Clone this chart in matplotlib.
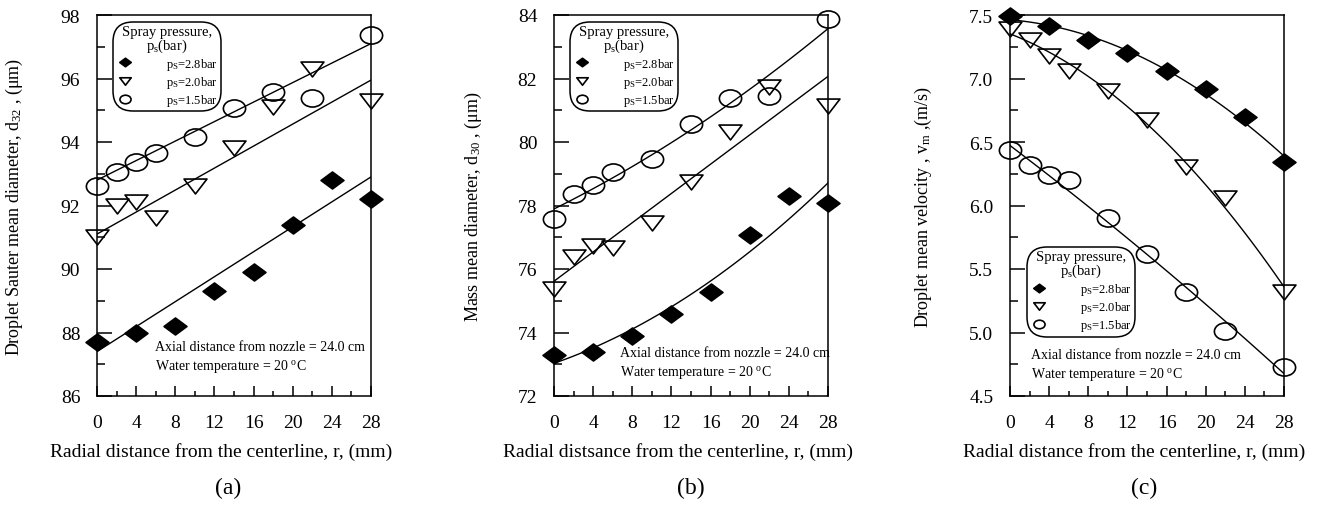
import numpy as np
import matplotlib
matplotlib.use("Agg")
import matplotlib.pyplot as plt
from matplotlib.path import Path
from matplotlib.ticker import MultipleLocator, FormatStrFormatter

plt.rcParams['font.family'] = ['Liberation Serif', 'DejaVu Serif']
plt.rcParams['mathtext.fontset'] = 'custom'
plt.rcParams['mathtext.rm'] = 'Liberation Serif'
plt.rcParams['mathtext.it'] = 'Liberation Serif:italic'

# radial positions (mm)
r_28 = [0, 4, 8, 12, 16, 20, 24, 28]
r_20 = [0, 2, 4, 6, 10, 14, 18, 22, 28]
r_15 = [0, 2, 4, 6, 10, 14, 18, 22, 28]

# (a) Sauter mean diameter d32 (um)
d32_28 = [87.7, 88.0, 88.2, 89.3, 89.9, 91.4, 92.8, 92.2]
d32_20 = [91.0, 92.0, 92.1, 91.6, 92.6, 93.8, 95.1, 96.3, 95.3]
d32_15 = [92.6, 93.06, 93.36, 93.65, 94.17, 95.07, 95.57, 95.38, 97.37]

# (b) mass mean diameter d30 (um)
d30_28 = [73.3, 73.4, 73.9, 74.58, 75.28, 77.07, 78.3, 78.08]
d30_20 = [75.37, 76.38, 76.72, 76.66, 77.45, 78.74, 80.32, 81.73, 81.13]
d30_15 = [77.57, 78.36, 78.65, 79.06, 79.46, 80.57, 81.39, 81.45, 83.87]

# (c) droplet mean velocity vm (m/s)
vm_28 = [7.49, 7.41, 7.30, 7.20, 7.06, 6.92, 6.70, 6.34]
vm_20 = [7.39, 7.30, 7.18, 7.06, 6.90, 6.67, 6.30, 6.06, 5.32]
vm_15 = [6.44, 6.32, 6.24, 6.20, 5.90, 5.62, 5.32, 5.01, 4.73]

# trend lines: straight lines in (a) read off as end values at r = 0 and 28,
# polynomial degree for the fitted curves in (b) and (c)
trend_r = [0, 28]
trend_a = [[87.4, 92.9], [91.1, 95.95], [92.8, 97.1]]
fit_b = [2, 1, 2]
fit_c = [2, 2, 2]

labels = ['p$_{\\rm S}$=2.8bar', 'p$_{\\rm S}$=2.0bar', 'p$_{\\rm S}$=1.5bar']

# markers in the original are a little wider than tall
circ = Path.unit_circle()
m_circle = Path(circ.vertices * [1.0, 0.77], circ.codes)
m_diamond = Path([(0, 0.74), (1, 0), (0, -0.74), (-1, 0), (0, 0.74)],
                 [Path.MOVETO, Path.LINETO, Path.LINETO, Path.LINETO, Path.CLOSEPOLY])
m_tri = Path([(0, -0.65), (-1, 0.65), (1, 0.65), (0, -0.65)],
             [Path.MOVETO, Path.LINETO, Path.LINETO, Path.CLOSEPOLY])

fig = plt.figure(figsize=(13.26, 5.06), dpi=100)
lefts = [97 / 1326, 554 / 1326, 1010 / 1326]
axes = [fig.add_axes([l, 109 / 506, 274 / 1326, 381 / 506]) for l in lefts]

panels = [
    (axes[0], [d32_28, d32_20, d32_15], trend_a, (86, 98), 2, 1, '%d',
     'Droplet Sauter mean diameter, d$_{32}$ , (\u03bcm)',
     'Radial distance from the centerline, r, (mm)', '(a)',
     (0.058, 0.982), (0.21, 0.131), -0.263, 0.478),
    (axes[1], [d30_28, d30_20, d30_15], fit_b, (72, 84), 2, 1, '%d',
     'Mass mean diameter, d$_{30}$ , (\u03bcm)',
     'Radial distsance from the centerline, r, (mm)', '(b)',
     (0.058, 0.982), (0.24, 0.115), -0.255, 0.5),
    (axes[2], [vm_28, vm_20, vm_15], fit_c, (4.5, 7.5), 0.5, 0.25, '%.1f',
     'Droplet mean velocity , v$_{\\rm m}$ ,(m/s)',
     'Radial distance from the centerline, r, (mm)', '(c)',
     (0.062, 0.391), (0.077, 0.11), -0.277, 0.49),
]

rs = [r_28, r_20, r_15]
mks = [(m_diamond, 'black', 16.5), (m_tri, 'none', 16.5), (m_circle, 'none', 16)]
xx = np.linspace(0, 28, 60)

for ax, series, trends, ylim, ymaj, ymin, fmt, ylab, xlab, tag, legpos, notepos, ylx, tagx in panels:
    for r, y, tr, (mk, fc, ms), lab in zip(rs, series, trends, mks, labels):
        if isinstance(tr, list):
            ax.plot(trend_r, tr, color='black', lw=1.0)
        else:
            coef = np.polyfit(r, y, tr)
            ax.plot(xx, np.polyval(coef, xx), color='black', lw=1.0)
        ax.plot(r, y, linestyle='none', marker=mk, ms=ms, mfc=fc, mec='black',
                mew=1.2, clip_on=False, label=lab, zorder=3)

    ax.set_xlim(0, 28)
    ax.set_ylim(*ylim)
    ax.xaxis.set_major_locator(MultipleLocator(4))
    ax.xaxis.set_minor_locator(MultipleLocator(2))
    ax.yaxis.set_major_locator(MultipleLocator(ymaj))
    ax.yaxis.set_minor_locator(MultipleLocator(ymin))
    ax.yaxis.set_major_formatter(FormatStrFormatter(fmt))
    ax.tick_params(which='both', direction='in', top=False, right=False, width=1.1,
                   labelsize=14)
    ax.tick_params(axis='y', which='major', length=10.5, pad=12)
    ax.tick_params(axis='y', which='minor', length=5.5)
    ax.tick_params(axis='x', which='major', length=7, pad=13)
    ax.tick_params(axis='x', which='minor', length=3.5)
    for s in ax.spines.values():
        s.set_linewidth(1.1)

    ax.set_ylabel(ylab, fontsize=13)
    ax.yaxis.set_label_coords(ylx, 0.5)
    ax.set_xlabel(xlab, fontsize=14)
    ax.xaxis.set_label_coords(0.453, -0.12)

    ax.text(notepos[0], notepos[1], 'Axial distance from nozzle = 24.0 cm',
            transform=ax.transAxes, fontsize=10, va='center')
    ax.text(notepos[0], notepos[1] - 0.052, 'Water temperature = 20 $^{\\rm o}$C',
            transform=ax.transAxes, fontsize=10, va='center')
    ax.text(tagx, -0.24, tag, transform=ax.transAxes, fontsize=17,
            ha='center', va='center')

    leg = ax.legend(title='Spray pressure,\np$_{\\rm s}$(bar)', loc='upper left',
                    bbox_to_anchor=legpos, borderaxespad=0, fontsize=9,
                    title_fontsize=10.5, markerscale=0.5, handlelength=1.4,
                    handletextpad=2.6, labelspacing=0.18, borderpad=0.25,
                    fancybox=True, edgecolor='black', framealpha=1)
    leg.get_title().set_linespacing(0.85)
    leg.get_title().set_multialignment('center')
    leg.get_frame().set_boxstyle('round', pad=0, rounding_size=1.6)
    leg.get_frame().set_linewidth(1.1)

fig.savefig('out.png', dpi=100)
